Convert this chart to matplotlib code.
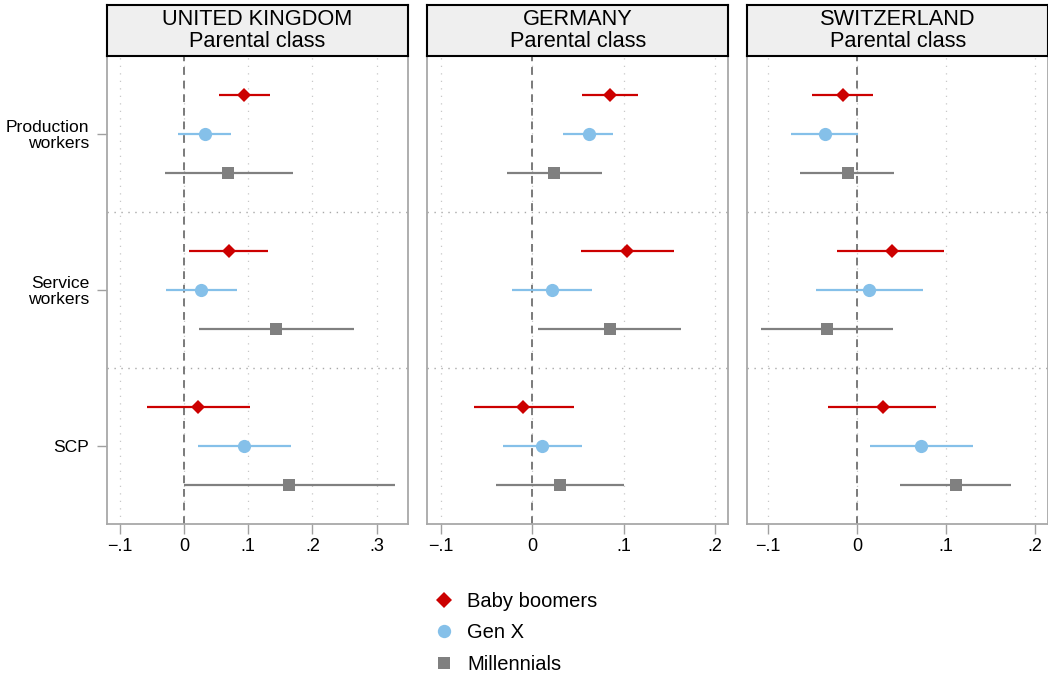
import matplotlib
matplotlib.use("Agg")
import matplotlib.pyplot as plt
from matplotlib.lines import Line2D

plt.rcParams['font.family'] = ['Liberation Sans', 'DejaVu Sans']

countries = ["UNITED KINGDOM", "GERMANY", "SWITZERLAND"]
categories = ["Production\nworkers", "Service\nworkers", "SCP"]
cohorts = ["Baby boomers", "Gen X", "Millennials"]

# estimates [category][cohort]
uk_est = [[0.094, 0.033, 0.069], [0.070, 0.027, 0.144], [0.021, 0.094, 0.164]]
uk_lo = [[0.054, -0.009, -0.030], [0.008, -0.029, 0.023], [-0.058, 0.021, 0.000]]
uk_hi = [[0.134, 0.073, 0.169], [0.130, 0.082, 0.265], [0.102, 0.167, 0.328]]

de_est = [[0.085, 0.062, 0.024], [0.104, 0.022, 0.085], [-0.010, 0.011, 0.031]]
de_lo = [[0.055, 0.034, -0.027], [0.053, -0.022, 0.006], [-0.064, -0.032, -0.039]]
de_hi = [[0.116, 0.089, 0.076], [0.155, 0.065, 0.163], [0.046, 0.055, 0.100]]

ch_est = [[-0.016, -0.036, -0.010], [0.039, 0.014, -0.034], [0.029, 0.072, 0.111]]
ch_lo = [[-0.050, -0.074, -0.064], [-0.022, -0.046, -0.107], [-0.032, 0.015, 0.048]]
ch_hi = [[0.018, 0.001, 0.042], [0.098, 0.074, 0.040], [0.089, 0.130, 0.173]]

uk_ticks = [-0.1, 0, 0.1, 0.2, 0.3]
uk_ticklabels = ["\u2212.1", "0", ".1", ".2", ".3"]
other_ticks = [-0.1, 0, 0.1, 0.2]
other_ticklabels = ["\u2212.1", "0", ".1", ".2"]

data = [(uk_est, uk_lo, uk_hi), (de_est, de_lo, de_hi), (ch_est, ch_lo, ch_hi)]
xlims = [(-0.1202, 0.349), (-0.1147, 0.2146), (-0.1228, 0.2146)]
tick_sets = [(uk_ticks, uk_ticklabels), (other_ticks, other_ticklabels), (other_ticks, other_ticklabels)]

colors = ["#cc0000", "#85c0e9", "#808080"]
markers = ["D", "o", "s"]
msizes = [7.2, 9.5, 8.3]
offsets = [-0.25, 0.0, 0.25]

W, H = 1048, 677
fig = plt.figure(figsize=(W / 100, H / 100), dpi=100)

lefts_px = [107, 427.3, 747.3]
ax_w_px = 301
ax_top_px = 55.5
ax_bot_px = 524
hdr_top_px = 5

for i, ax_left in enumerate(lefts_px):
    ax = fig.add_axes([ax_left / W, 1 - ax_bot_px / H, ax_w_px / W, (ax_bot_px - ax_top_px) / H])
    est, lo, hi = data[i]
    ax.set_xlim(*xlims[i])
    ax.set_ylim(2.5, -0.5)
    ticks, labels = tick_sets[i]
    for t in ticks:
        ax.axvline(t, color="#c8c8c8", lw=0.9, ls=(0, (1, 5)), zorder=0)
    for s in [0.5, 1.5]:
        ax.axhline(s, color="#a8a8a8", lw=1.0, ls=(0, (1, 4)), zorder=0)
    ax.axvline(0, color="#7a7a7a", lw=1.4, ls=(0, (4, 3)), zorder=1)
    for c in range(3):
        for k in range(3):
            y = c + offsets[k]
            ax.plot([lo[c][k], hi[c][k]], [y, y], color=colors[k], lw=1.6, zorder=2,
                    solid_capstyle="butt")
            ax.plot([est[c][k]], [y], marker=markers[k], color=colors[k],
                    markersize=msizes[k], markeredgewidth=0, zorder=3, linestyle="none")
    ax.set_xticks(ticks)
    ax.set_xticklabels(labels, fontsize=13)
    ax.set_yticks([0, 1, 2])
    if i == 0:
        ax.set_yticklabels(categories, fontsize=12.6, linespacing=1.1)
        ax.tick_params(axis="y", length=7.2, width=1, color="#a0a0a0", pad=5.5)
    else:
        ax.set_yticklabels([])
        ax.tick_params(axis="y", length=0)
    ax.tick_params(axis="x", length=7.2, width=1, color="#a0a0a0", pad=3)
    for sp in ax.spines.values():
        sp.set_color("#a8a8a8")
        sp.set_linewidth(1.3)
    # header box
    hdr = fig.add_axes([ax_left / W, 1 - ax_top_px / H, ax_w_px / W, (ax_top_px - hdr_top_px) / H])
    hdr.set_xticks([])
    hdr.set_yticks([])
    hdr.set_facecolor("#efefef")
    for sp in hdr.spines.values():
        sp.set_color("black")
        sp.set_linewidth(1.5)
    hdr.text(0.5, 0.604, countries[i], ha="center", va="baseline", fontsize=15.7, transform=hdr.transAxes)
    hdr.text(0.5, 0.174, "Parental class", ha="center", va="baseline", fontsize=15.7, transform=hdr.transAxes)

handles = [Line2D([], [], marker=markers[k], color=colors[k], linestyle="none",
                  markersize=[8.5, 9.6, 9.1][k], markeredgewidth=0) for k in range(3)]
fig.legend(handles, cohorts, loc="upper left", bbox_to_anchor=(432 / W, 1 - 592 / H),
           frameon=False, fontsize=14.5, handletextpad=0.55, labelspacing=0.62,
           handlelength=1.2, borderaxespad=0, borderpad=0)

fig.savefig("out.png", dpi=100)
